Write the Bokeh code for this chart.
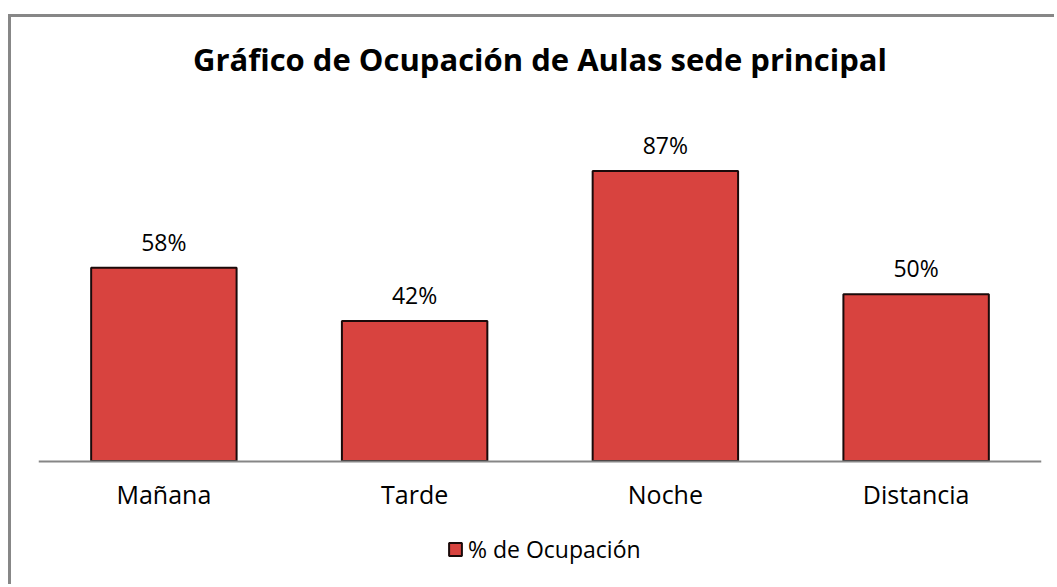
from bokeh.plotting import figure
from bokeh.models import ColumnDataSource, LabelSet, Label, Legend, LegendItem, Range1d
from bokeh.core.properties import value
from bokeh.embed import file_html
from bokeh.resources import INLINE

categories = ["Mañana", "Tarde", "Noche", "Distancia"]
ocupacion = [58, 42, 87, 50]
labels = ["58%", "42%", "87%", "50%"]
series_name = "% de Ocupación"
title_text = "Gráfico de Ocupación de Aulas sede principal"

FONT = "Open Sans"

src = ColumnDataSource(dict(cat=categories, val=ocupacion, lab=labels))

# vertical scale: the plotting frame spans the whole bordered area; the
# category axis sits at y = 0 inside it (fixed_location)
Y_TOP = 133.0
Y_BOTTOM = -37.9

p = figure(x_range=categories, y_range=Range1d(Y_BOTTOM, Y_TOP), width=1046, height=570,
           output_backend="svg", toolbar_location=None,
           min_border_left=27, min_border_right=16, min_border_top=0, min_border_bottom=0)
p.styles = {"border-left": "3px solid #878787", "border-top": "3px solid #878787",
            "margin-top": "14px", "margin-left": "8px"}

bars = p.vbar(x="cat", top="val", width=0.58, source=src,
              fill_color="#d8433f", line_color="#1a0a0a", line_width=2)

p.add_layout(LabelSet(x="cat", y="val", text="lab", source=src, y_offset=26,
                      text_align="center", text_baseline="middle",
                      text_font=value(FONT), text_font_size="23px", text_color="black"))

p.add_layout(Label(x=2.0, y=120.7, text=title_text, text_align="center",
                   text_baseline="middle", text_font=FONT, text_font_style="bold",
                   text_font_size="31px", text_color="black"))

p.yaxis.visible = False
p.xgrid.grid_line_color = None
p.ygrid.grid_line_color = None
p.outline_line_color = None
p.xaxis.fixed_location = 0
p.xaxis.axis_line_color = "#868686"
p.xaxis.axis_line_width = 2
p.xaxis.major_tick_line_color = None
p.xaxis.minor_tick_line_color = None
p.xaxis.major_tick_out = 0
p.xaxis.major_tick_in = 0
p.xaxis.major_label_text_font = FONT
p.xaxis.major_label_text_font_size = "25px"
p.xaxis.major_label_text_color = "black"
p.xaxis.major_label_standoff = 16

legend = Legend(items=[LegendItem(label=series_name, renderers=[bars])],
                location=(409, 22), orientation="horizontal",
                label_text_font=FONT, label_text_font_size="23px", label_text_color="black",
                glyph_width=16, glyph_height=16, border_line_color=None,
                background_fill_alpha=0, margin=0, padding=0, spacing=0,
                label_standoff=5, label_height=16)
p.add_layout(legend)

open("out.html", "w").write(file_html(p, INLINE))
